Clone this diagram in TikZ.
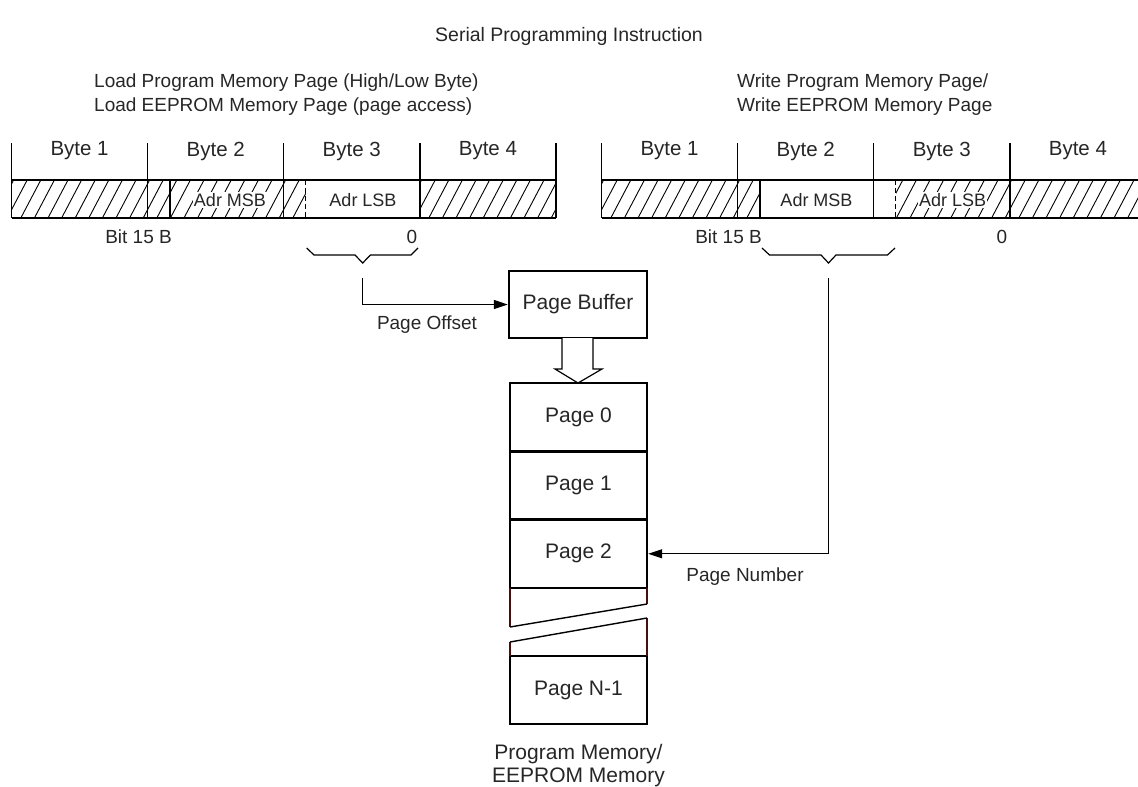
\documentclass[tikz,border=0pt]{standalone}
\usepackage{fontspec}
\setmainfont{Liberation Sans}
\usetikzlibrary{arrows.meta}
\definecolor{brkred}{RGB}{70,15,15}
\tikzset{
  txt/.style={text=black!85, inner sep=0pt, font=\fontsize{19}{24}\selectfont},
  bytelbl/.style={txt, font=\fontsize{20.5}{24}\selectfont},
  adrlbl/.style={txt, font=\fontsize{18}{22}\selectfont, fill=white, inner sep=1pt},
  pagebox/.style={draw, line width=2.4pt, minimum width=137pt, minimum height=68.5pt, inner sep=0pt, text=black!85, font=\fontsize{21}{24}\selectfont},
  hatchln/.style={line width=0.9pt},
  conn/.style={line width=1.2pt, -{Triangle[length=14pt,width=9pt]}},
  brk/.style={line width=1.4pt, brkred},
  sepdash/.style={line width=1.2pt, dash pattern=on 5pt off 3pt},
}
\begin{document}
\begin{tikzpicture}[x=1pt, y=-1pt]
  \useasboundingbox (0,0) rectangle (1138,787);
  % title and headers
  \node[txt, font=\fontsize{19.5}{24}\selectfont] (title) at (569,36) {Serial Programming Instruction};
  \node[txt, anchor=west, align=left] (lhead) at (94,95) {Load Program Memory Page (High/Low Byte)\\Load EEPROM Memory Page (page access)};
  \node[txt, anchor=west, align=left] (rhead) at (737,95) {Write Program Memory Page/\\Write EEPROM Memory Page};
  % hatching of both registers
  \foreach \o in {0,590}{
    \begin{scope}
      \clip (11.5+\o,180) rectangle (556+\o,218);
      \foreach \h in {-20,-6.4,...,560} \draw[hatchln] (\h+\o,218) -- (\h+\o+20,180);
    \end{scope}
  }
  \fill[white] (305.7,180) rectangle (419.8,218);
  \fill[white] (760,180) rectangle (895.7,218);
  % register frames
  \foreach \o/\r in {0/l,590/r}{
    \draw[line width=1.8pt] (11.5+\o,180) -- (556+\o,180) (11.5+\o,218) -- (556+\o,218);
    \foreach \i in {0,...,4} \draw[line width=1.4pt] (11.5+136.1*\i+\o,143) -- (11.5+136.1*\i+\o,218);
    \foreach \i in {1,...,4} \node[bytelbl] (\r b\i) at (11.5+136.1*\i-68+\o,151) {Byte \i};
  }
  \draw[line width=1.4pt] (170,180) -- (170,218);
  \draw[sepdash] (305.7,180) -- (305.7,218);
  \draw[line width=1.4pt] (760,180) -- (760,218);
  \draw[sepdash] (895.7,180) -- (895.7,218);
  \node[adrlbl] (lmsb) at (230,200) {Adr MSB};
  \node[adrlbl] (llsb) at (363,200) {Adr LSB};
  \node[adrlbl] (rmsb) at (816.5,200) {Adr MSB};
  \node[adrlbl] (rlsb) at (952.6,200) {Adr LSB};
  % bit numbers
  \node[txt, anchor=east] (lbit) at (172,237) {Bit 15 B};
  \node[txt] (lzero) at (412,237) {0};
  \node[txt, anchor=east] (rbit) at (762,237) {Bit 15 B};
  \node[txt] (rzero) at (1002,237) {0};
  % braces
  \draw[line width=1.2pt] (306.7,248) -- (314,255) -- (355,255) -- (362.7,263) -- (370.4,255) -- (411,255) -- (418,248);
  \draw[line width=1.2pt] (762,248) -- (769.5,255) -- (821,255) -- (828.5,263) -- (836,255) -- (887.5,255) -- (895,248);
  \coordinate (offs) at (362.7,278);
  \coordinate (num) at (828.5,278);
  % page buffer and memory
  \node[pagebox, minimum width=138pt, minimum height=67pt] (buf) at (578,304.5) {Page Buffer};
  \node[pagebox] (pg0) at (578.5,417.2) {Page 0};
  \node[pagebox] (pg1) at (578.5,485.5) {Page 1};
  \node[pagebox] (pg2) at (578.5,553.8) {Page 2};
  \node[pagebox] (pgn) at (578.5,690) {Page N-1};
  \draw[line width=1.2pt, fill=white] (562,338) -- (562,369) -- (555,369) -- (578,383) -- (602,369) -- (593,369) -- (593,338);
  % break in the stack
  \draw[brk] (510,588) -- (510,627);
  \draw[brk] (647,588) -- (647,604);
  \draw[line width=1.4pt] (510,627) -- (647,604);
  \draw[brk] (510,642) -- (510,656);
  \draw[brk] (647,618) -- (647,656);
  \draw[line width=1.4pt] (510,642) -- (647,618);
  % connectors
  \draw[conn] (offs) |- (buf.west);
  \draw[conn] (num) |- (pg2.east);
  \node[txt] (offlbl) at (427,325) {Page Offset};
  \node[txt] (numlbl) at (745,577) {Page Number};
  \node[txt, align=center, font=\fontsize{21}{23}\selectfont] (memlbl) at (578.5,765.5) {Program Memory/\\EEPROM Memory};
\end{tikzpicture}
\end{document}
